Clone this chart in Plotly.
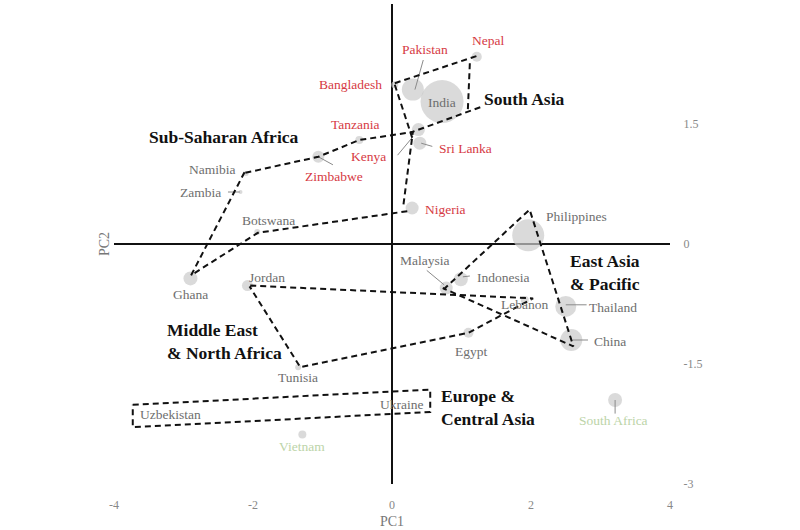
import plotly.graph_objects as go

# ---- data (PC1, PC2, bubble size) ----
countries = ["India", "Pakistan", "Bangladesh", "Nepal", "Tanzania", "Zimbabwe", "Kenya",
             "Sri Lanka", "Nigeria", "Namibia", "Zambia", "Botswana", "Ghana", "Jordan",
             "Tunisia", "Vietnam", "South Africa", "Philippines", "Malaysia", "Indonesia",
             "Lebanon", "Thailand", "China", "Egypt", "Uzbekistan", "Ukraine"]
pc1 = [0.72, 0.30, 0.04, 1.22, -0.47, -1.06, 0.38, 0.40, 0.29, -2.10, -2.18, -1.94, -2.90,
       -2.08, -1.35, -1.29, 3.21, 1.96, 0.78, 0.99, 1.91, 2.50, 2.58, 1.10, -3.55, 0.20]
pc2 = [1.78, 1.93, 1.99, 2.34, 1.30, 1.09, 1.43, 1.26, 0.45, 0.88, 0.65, 0.15, -0.43,
       -0.52, -1.54, -2.38, -1.95, 0.11, -0.55, -0.44, -0.70, -0.78, -1.20, -1.11, -2.12, -1.98]
sizes = [43, 22, 7, 10, 8, 12, 13, 13, 13, 5, 4, 6, 14, 11, 6, 8, 14, 32, 13, 14, 8, 21, 22, 10, 0, 0]

# label text, label position (data units), colour group
label_x = [0.72, 0.47, -0.60, 1.38, -0.53, -0.84, -0.34, 1.06, 0.76, -2.58, -2.76, -1.77, -2.90,
           -1.80, -1.35, -1.29, 3.18, 2.66, 0.47, 1.59, 1.91, 3.18, 3.14, 1.13, -3.19, 0.14]
label_y = [1.77, 2.43, 2.00, 2.55, 1.50, 0.84, 1.09, 1.20, 0.43, 0.93, 0.64, 0.29, -0.63,
           -0.42, -1.67, -2.53, -2.21, 0.35, -0.21, -0.42, -0.76, -0.79, -1.22, -1.34, -2.13, -2.01]
groups = ["gray", "red", "red", "red", "red", "red", "red", "red", "red", "gray", "gray",
          "gray", "gray", "gray", "gray", "green", "green", "gray", "gray", "gray", "gray",
          "gray", "gray", "gray", "gray", "gray"]

# region outlines (dashed), vertices in data units; None splits segments
south_asia_x = [0.04, 1.22, None, 1.12, 1.09, None, 1.27, 0.26, None, 0.04, 0.29]
south_asia_y = [2.01, 2.35, None, 2.26, 1.65, None, 1.71, 1.39, None, 1.99, 1.33]
ssa_x = [-2.11, -1.06, -0.47, 0.30, 0.16, None, 0.22, -1.93, -2.89, -2.12]
ssa_y = [0.89, 1.09, 1.30, 1.40, 0.46, None, 0.41, 0.14, -0.39, 0.90]
mena_x = [-2.04, 2.03, 1.10, -1.32, -2.05]
mena_y = [-0.52, -0.68, -1.11, -1.54, -0.53]
eap_x = [0.74, 1.98, 2.61, 0.73]
eap_y = [-0.57, 0.43, -1.28, -0.55]
eca_x = [-3.73, 0.55, 0.55, -3.73, -3.73]
eca_y = [-2.01, -1.82, -2.10, -2.29, -2.01]

# leader lines (gray)
leader_x = [0.45, 0.33, None, 0.08, 0.30, None, 0.58, 0.42, None, -1.06, -0.85, None,
            -2.36, -2.19, None, 0.50, 0.75, None, 1.02, 1.12, None, 2.50, 2.80, None,
            2.60, 2.82, None, 3.21, 3.21]
leader_y = [2.30, 1.93, None, 1.11, 1.34, None, 1.22, 1.26, None, 1.09, 0.99, None,
            0.65, 0.65, None, -0.33, -0.51, None, -0.41, -0.40, None, -0.76, -0.76, None,
            -1.20, -1.20, None, -1.95, -2.12]

regions = ["South Asia", "Sub-Saharan Africa", "East Asia<br>& Pacific",
           "Middle East<br>& North Africa", "Europe &<br>Central Asia"]
region_x = [1.29, -3.53, 2.53, -3.27, 0.67]
region_y = [1.81, 1.34, -0.35, -1.22, -2.04]

# ---- figure ----
SERIF = "Liberation Serif, Times New Roman, serif"
colors = {"red": "#d63a44", "gray": "#6e6e6e", "green": "#bcd4a8"}

fig = go.Figure()

fig.add_trace(go.Scatter(x=pc1, y=pc2, mode="markers",
                         marker=dict(size=sizes, color="#cbcbcb", line=dict(width=0)),
                         hoverinfo="text", text=countries))

fig.add_trace(go.Scatter(x=leader_x, y=leader_y, mode="lines",
                         line=dict(color="#8a8a8a", width=1), hoverinfo="skip"))

for xs, ys in [(south_asia_x, south_asia_y), (ssa_x, ssa_y), (mena_x, mena_y),
               (eap_x, eap_y), (eca_x, eca_y)]:
    fig.add_trace(go.Scatter(x=xs, y=ys, mode="lines",
                             line=dict(color="#111111", width=2, dash="6px,4px"),
                             hoverinfo="skip"))

for name, lx, ly, g in zip(countries, label_x, label_y, groups):
    fig.add_annotation(x=lx, y=ly, text=name, showarrow=False,
                       font=dict(family=SERIF, size=13.5, color=colors[g]))

for name, rx, ry in zip(regions, region_x, region_y):
    fig.add_annotation(x=rx, y=ry, text="<b>" + name + "</b>", showarrow=False,
                       xanchor="left", align="left",
                       font=dict(family=SERIF, size=17.5, color="#111111"))

fig.add_annotation(xref="paper", yref="paper", x=0.5, y=0, yshift=-37, yanchor="middle",
                   text="PC1", showarrow=False,
                   font=dict(family=SERIF, size=14, color="#777777"))
fig.add_annotation(xref="paper", yref="paper", x=0, y=0.5, xshift=-10, xanchor="center",
                   yanchor="middle", text="PC2", textangle=-90, showarrow=False,
                   font=dict(family=SERIF, size=14, color="#777777"))

fig.update_layout(
    width=800, height=530, showlegend=False,
    margin=dict(l=114, r=130, t=4, b=46),
    paper_bgcolor="white", plot_bgcolor="white",
    xaxis=dict(range=[-4, 4], tickvals=[-4, -2, 0, 2, 4], ticktext=["-4", "-2", "0", "2", "4"],
               showgrid=False,
               zeroline=True, zerolinecolor="#111111", zerolinewidth=1.5,
               showline=False, ticks="outside", ticklen=10, tickcolor="rgba(0,0,0,0)",
               tickfont=dict(family=SERIF, size=12, color="#888888")),
    yaxis=dict(range=[-3, 3], tickvals=[-3, -1.5, 0, 1.5, 3],
               ticktext=["-3", "-1.5", "0", "1.5", "3"], side="right", showgrid=False,
               zeroline=True, zerolinecolor="#111111", zerolinewidth=1.5,
               showline=False, ticks="outside", ticklen=10, tickcolor="rgba(0,0,0,0)",
               tickfont=dict(family=SERIF, size=12, color="#888888")),
)

fig.write_html("out.html", config={"displayModeBar": False},
               post_script="document.body.style.margin='0px';")
